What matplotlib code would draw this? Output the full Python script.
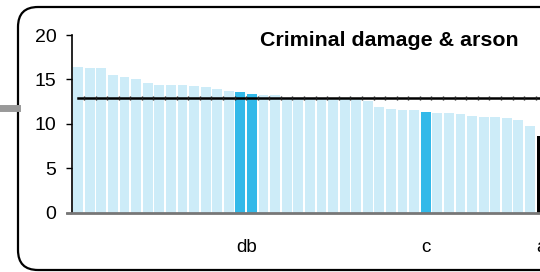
import matplotlib
matplotlib.use("Agg")
import matplotlib.pyplot as plt
from matplotlib.patches import FancyBboxPatch
from matplotlib.lines import Line2D

plt.rcParams['font.family'] = ['Liberation Sans', 'DejaVu Sans']

# data (bars sorted high to low, last one cut by the frame)
values = [16.4, 16.3, 16.3, 15.5, 15.3, 15.0, 14.6, 14.4, 14.4, 14.4,
          14.3, 14.2, 13.95, 13.75, 13.6, 13.4, 13.3, 13.2, 12.9, 12.9,
          12.9, 12.85, 12.85, 12.85, 12.85, 12.6, 11.9, 11.7, 11.6, 11.6,
          11.35, 11.25, 11.25, 11.15, 10.9, 10.8, 10.8, 10.7, 10.45, 9.8,
          8.65]
highlight = [14, 15, 30]
black_bar = [40]
average = 12.9
title = "Criminal damage & arson"
label_pos = [14.5, 30, 40]
label_txt = ["db", "c", "a"]
yticks = [0, 5, 10, 15, 20]

light = "#CDECF8"
dark = "#33B9E9"

colors = []
for i in range(len(values)):
    if i in black_bar:
        colors.append("black")
    elif i in highlight:
        colors.append(dark)
    else:
        colors.append(light)

fig = plt.figure(figsize=(5.4, 2.72), dpi=100)

# rounded frame running off the right edge
frame = FancyBboxPatch((0.18, 0.02), 5.6, 2.63,
                       boxstyle="round,pad=0,rounding_size=0.2",
                       transform=fig.dpi_scale_trans, fill=False,
                       edgecolor="black", linewidth=1.6, zorder=0)
fig.patches.append(frame)
# grey connector on the left
fig.lines.append(Line2D([0, 0.17], [1.645, 1.645], transform=fig.dpi_scale_trans,
                        color="#999999", linewidth=5))

ax = fig.add_axes([0.1333, 0.218, 0.891, 0.653])
x = list(range(len(values)))
ax.bar(x, values, width=0.85, color=colors, zorder=2)
ax.plot([0, len(values) + 1], [average, average], color="black", linewidth=1.8,
        zorder=3)
ax.plot([i + 0.5 for i in x], [average] * len(x), linestyle="none", marker="|",
        markersize=3, color="#222222", zorder=4)
# baseline runs a little left of the y axis
ax.plot([-1.0, 41], [0, 0], color="#777777", linewidth=2, clip_on=False, zorder=5)

ax.set_xlim(-0.535, 41)
ax.set_ylim(0, 20)
ax.set_yticks(yticks)
ax.set_xticks(label_pos)
ax.set_xticklabels(label_txt)
ax.tick_params(axis="y", length=4.3, width=1, pad=7, labelsize=14)
ax.tick_params(axis="x", length=0, pad=19, labelsize=13.5)

for s in ["top", "right", "bottom"]:
    ax.spines[s].set_visible(False)
ax.spines["left"].set_linewidth(1.2)

fig.text(389.5 / 540, 1 - 40 / 272, title, ha="center", va="center",
         fontsize=15.4, fontweight="bold")

fig.savefig("out.png", dpi=100)
